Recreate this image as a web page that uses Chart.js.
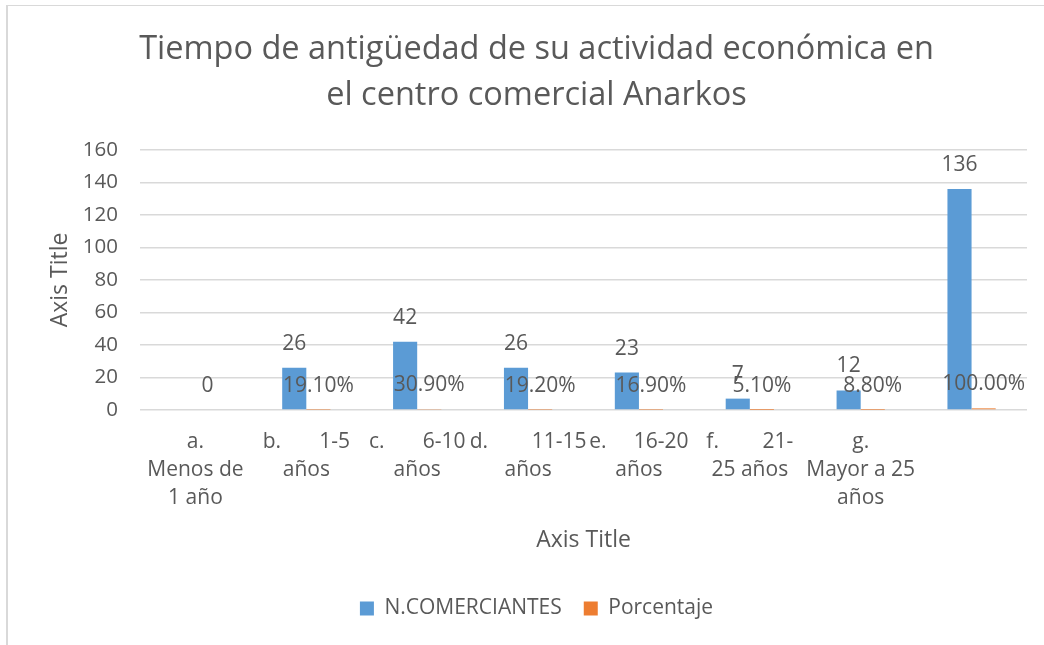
<!DOCTYPE html>
<html>
<head>
<meta charset="utf-8">
<script src="https://cdn.jsdelivr.net/npm/chart.js@4.4.1/dist/chart.umd.min.js"></script>
<style>
  html, body { margin: 0; padding: 0; background: #ffffff; }
  #wrap { position: relative; width: 1044px; height: 645px; }
  #frame { position: absolute; left: 6px; top: 5px; right: 0; bottom: 0;
           border-left: 2px solid #d9d9d9; border-top: 1px solid #d9d9d9; }
  canvas { position: absolute; left: 0; top: 0; }
</style>
</head>
<body>
<div id="wrap">
  <div id="frame"></div>
  <canvas id="c" width="1044" height="645"></canvas>
</div>
<script>
const chartTitle = ["Tiempo de antigüedad de su actividad económica en", "el centro comercial Anarkos"];
const categories = [
  ["a.", "Menos de", "1 año"],
  ["b.       1-5", "años"],
  ["c.       6-10", "años"],
  ["d.        11-15", "años"],
  ["e.     16-20", "años"],
  ["f.        21-", "25 años"],
  ["g.", "Mayor a 25", "años"],
  ""
];
const comerciantes = [null, 26, 42, 26, 23, 7, 12, 136];
const porcentaje = [0, 0.191, 0.309, 0.192, 0.169, 0.051, 0.088, 1.0];
const yTicks = [0, 20, 40, 60, 80, 100, 120, 140, 160];
const seriesNames = ["N.COMERCIANTES", "Porcentaje"];

const TEXT = "#595959";
const FONT = "'Open Sans', 'DejaVu Sans', sans-serif";
const PAD_LEFT = 46;

const labelPlugin = {
  id: "barLabels",
  afterDatasetsDraw(chart) {
    const ctx = chart.ctx;
    ctx.save();
    ctx.font = "21px " + FONT;
    ctx.fillStyle = TEXT;
    ctx.textAlign = "center";
    ctx.textBaseline = "middle";
    chart.data.datasets.forEach((ds, di) => {
      const meta = chart.getDatasetMeta(di);
      meta.data.forEach((el, i) => {
        const v = ds.data[i];
        if (v === null || v === undefined) return;
        let txt;
        if (di === 0) txt = String(v);
        else txt = v === 0 ? "0" : (v * 100).toFixed(2) + "%";
        ctx.fillText(txt, el.x, el.y - 24);
      });
    });
    ctx.restore();
  }
};

new Chart(document.getElementById("c"), {
  type: "bar",
  data: {
    labels: categories,
    datasets: [
      { label: seriesNames[0], data: comerciantes, backgroundColor: "#5B9BD5",
        barPercentage: 1.0, categoryPercentage: 0.435 },
      { label: seriesNames[1], data: porcentaje, backgroundColor: "#ED7D31",
        barPercentage: 1.0, categoryPercentage: 0.435 }
    ]
  },
  options: {
    responsive: false,
    animation: false,
    layout: { padding: { left: PAD_LEFT, right: 17, top: 0, bottom: 16 } },
    plugins: {
      title: {
        display: true,
        text: chartTitle,
        color: TEXT,
        font: { family: FONT, size: 32.5, weight: "normal", lineHeight: 1.415 },
        padding: { top: 27, bottom: 31 }
      },
      legend: {
        position: "bottom",
        labels: {
          color: TEXT,
          font: { family: FONT, size: 21 },
          boxWidth: 14, boxHeight: 14, padding: 22
        }
      },
      tooltip: { enabled: false }
    },
    scales: {
      x: {
        afterFit(scale) { scale.height = 166; },
        grid: { display: false, drawTicks: false },
        border: { display: false },
        ticks: { color: TEXT, font: { family: FONT, size: 21, lineHeight: 1.34 },
                 padding: 18, maxRotation: 0, autoSkip: false },
        title: { display: true, text: "Axis Title", color: TEXT,
                 font: { family: FONT, size: 23 }, padding: { top: 0, bottom: 22 } }
      },
      y: {
        min: 0, max: 160,
        afterBuildTicks(scale) { scale.ticks = yTicks.map(v => ({ value: v })); },
        afterFit(scale) { scale.width = 140 - PAD_LEFT; },
        grid: { color: "#d9d9d9", lineWidth: 1.5, drawTicks: false },
        border: { display: false },
        ticks: { color: TEXT, font: { family: FONT, size: 20.5 }, padding: 22 },
        title: { display: true, text: "Axis Title", color: TEXT,
                 font: { family: FONT, size: 23 }, padding: { top: 1, bottom: 0 } }
      }
    }
  },
  plugins: [labelPlugin]
});
</script>
</body>
</html>
